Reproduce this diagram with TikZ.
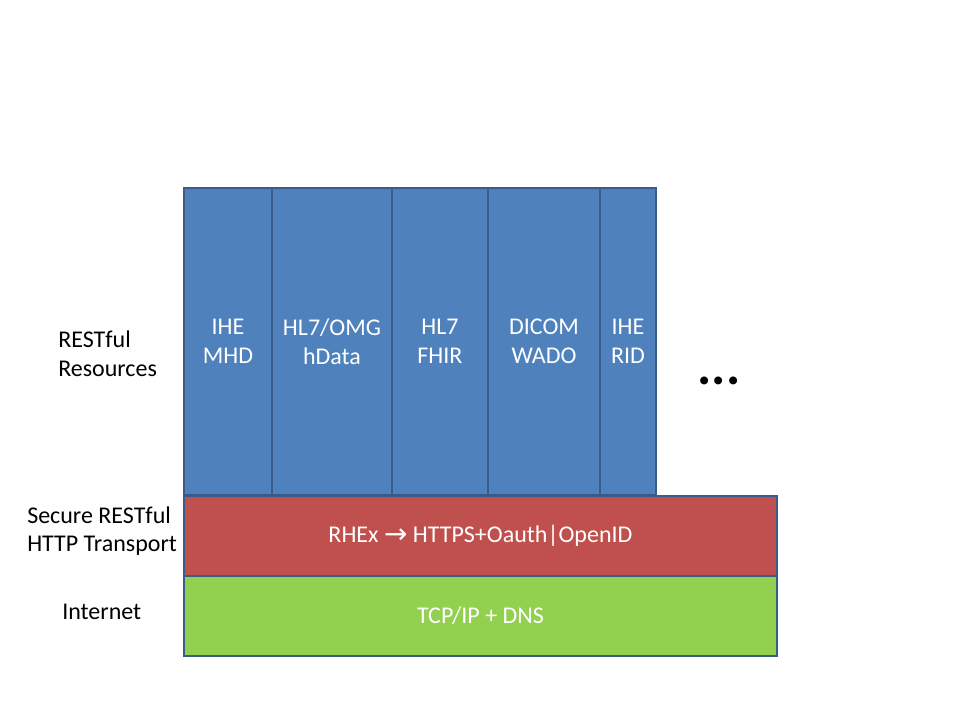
\documentclass[tikz,border=0pt]{standalone}
\usepackage{fontspec}
\setmainfont{Carlito}
\newfontfamily\symfont{DejaVu Sans}
\definecolor{rblue}{HTML}{4F81BD}
\definecolor{rred}{HTML}{C0504D}
\definecolor{rgreen}{HTML}{92D050}
\definecolor{rline}{HTML}{385D8A}
\begin{document}
\begin{tikzpicture}[x=0.75pt,y=-0.75pt,
  layer/.style={draw=rline, line width=1.5pt, text=white, align=center,
    font=\fontsize{18}{21.6}\selectfont, inner sep=0pt},
  col/.style={layer, fill=rblue, minimum height=230.25pt},
  lbl/.style={font=\fontsize{18}{21.6}\selectfont, inner sep=0pt}]
\useasboundingbox (0,0) rectangle (960,720);
% columns
\node[col, minimum width=66pt] (mhd) at (228,341.5) {IHE\\MHD};
\node[col, minimum width=90pt] (hdata) at (332,341.5) {HL7/OMG\\hData};
\node[col, minimum width=72pt] (fhir) at (440,341.5) {HL7\\FHIR};
\node[col, minimum width=84pt] (wado) at (544,341.5) {DICOM\\WADO};
\node[col, minimum width=42pt] (rid) at (628,341.5) {IHE\\RID};
% transport
\node[layer, fill=rred, minimum width=444.75pt, minimum height=60.75pt] (rhex) at (480.5,536)
  {RHEx {\symfont\fontsize{21}{21}\selectfont\raisebox{-0.5pt}{→}} HTTPS+Oauth|OpenID};
% internet
\node[layer, fill=rgreen, minimum width=444.75pt, minimum height=60pt] (tcp) at (480.5,616)
  {TCP/IP + DNS};
% ellipsis
\node[inner sep=0pt, font=\fontsize{40}{40}\bfseries\selectfont] (dots) at (719,381) {...};
% labels
\node[lbl, align=left, anchor=west] (res) at (58,354) {RESTful\\Resources};
\node[lbl, align=left, anchor=west] (sec) at (27,531) {Secure RESTful\\HTTP Transport};
\node[lbl, anchor=west] (inet) at (62,612) {Internet};
\end{tikzpicture}
\end{document}
